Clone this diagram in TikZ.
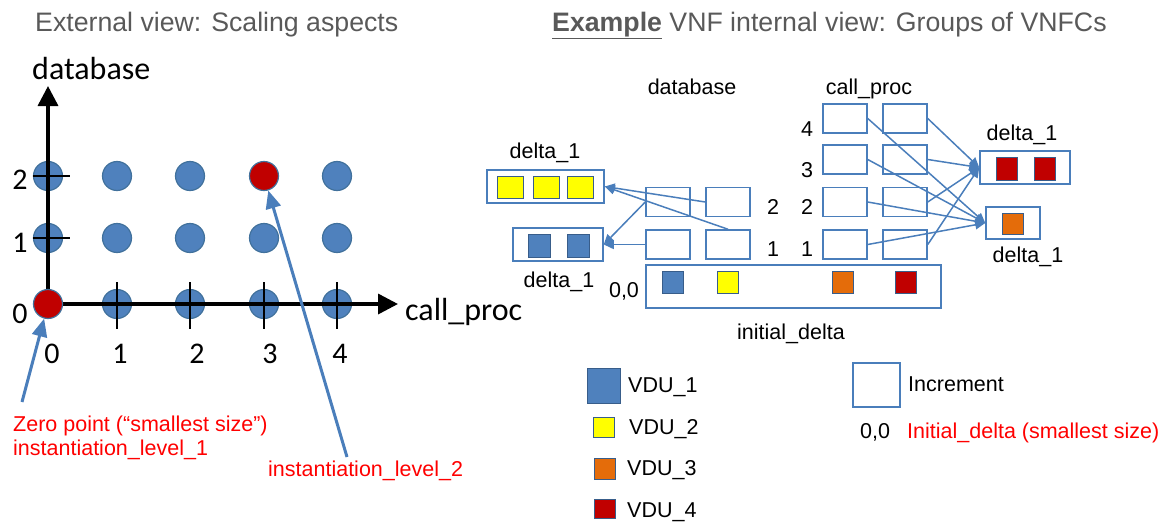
\documentclass[tikz,border=0pt]{standalone}
\usepackage{fontspec}
\setmainfont{Liberation Sans}
\newfontfamily\calfont{Carlito}
\usetikzlibrary{arrows.meta}
\definecolor{vblue}{HTML}{4F81BD}
\definecolor{vedge}{HTML}{385D8A}
\definecolor{cedge}{HTML}{41719C}
\definecolor{vred}{HTML}{C00000}
\definecolor{vyellow}{HTML}{FFFF00}
\definecolor{vorange}{HTML}{E46C0A}
\definecolor{tgray}{HTML}{595959}
\definecolor{lred}{HTML}{FF0000}
\definecolor{lblue}{HTML}{4A7EBB}
\begin{document}
\begin{tikzpicture}[x=1pt,y=-1pt,
  txt/.style={font=\fontsize{21.5}{24}\selectfont, inner sep=0pt},
  redtxt/.style={txt, text=lred, anchor=base west},
  ttl/.style={font=\fontsize{26.7}{30}\selectfont, text=tgray, inner sep=0pt, anchor=base west},
  cal/.style={font=\calfont\fontsize{32}{36}\selectfont, inner sep=0pt},
  num/.style={font=\calfont\fontsize{30}{34}\selectfont, inner sep=0pt},
  dot/.style={circle, minimum size=29pt, inner sep=0pt, fill=vblue, draw=cedge, line width=1.2pt},
  reddot/.style={dot, fill=vred},
  axis/.style={line width=3.5pt, -{Triangle[length=20pt,width=20pt]}},
  tickmark/.style={line width=2pt},
  pointer/.style={draw=lblue, line width=3pt, -{Triangle[length=18pt,width=15pt]}},
  incbox/.style={draw=lblue, line width=1.5pt, minimum width=44pt, minimum height=29pt, inner sep=0pt},
  grp/.style={draw=lblue, line width=1.5pt, inner sep=0pt},
  sq/.style={draw=vedge, line width=1pt, inner sep=0pt, minimum width=21pt, minimum height=22pt},
  link/.style={draw=lblue, line width=1.5pt, -{Triangle[length=10pt,width=9pt]}},
]
\useasboundingbox (0,0) rectangle (1168,522);

% ---------- titles ----------
\node[ttl] (t1) at (35,31) {External view: Scaling aspects};
\node[ttl] (t2) at (552,31) {\underline{\textbf{Example}} VNF internal view: Groups of VNFCs};

% ---------- left chart ----------
\foreach \n/\x/\y in {c10/117/304, c20/190/304, c30/264/304, c40/337/304,
                      c01/48/238, c11/117/238, c21/190/238, c31/264/238, c41/337/238,
                      c02/48/176, c12/117/176, c22/190/176, c42/337/176}
  \node[dot] (\n) at (\x,\y) {};

\coordinate (O) at (48,304);
\coordinate (ytop) at (48,86);
\coordinate (xend) at (398,304);
\draw[axis] (O) -- (ytop);
\draw[axis] (O) -- (xend);

\foreach \y/\n in {176/ty2, 238/ty1} {
  \coordinate (\n a) at (33,\y); \coordinate (\n b) at (70,\y);
  \draw[tickmark] (\n a) -- (\n b);
}
\foreach \x/\n in {117/tx1, 190/tx2, 264/tx3, 337/tx4} {
  \coordinate (\n a) at (\x,282); \coordinate (\n b) at (\x,329);
  \draw[tickmark] (\n a) -- (\n b);
}

\node[reddot] (c00) at (48,304) {};
\node[reddot] (c32) at (264,176) {};

\node[cal, anchor=base west] (ylab) at (32,79) {database};
\node[cal, anchor=base west] (xlab) at (405,320) {call\_proc};

\node[num] (y0) at (20,314) {0};
\node[num] (y1) at (20,243) {1};
\node[num] (y2) at (20,180) {2};
\node[num] (x0) at (52,354) {0};
\node[num] (x1) at (120,354) {1};
\node[num] (x2) at (197,354) {2};
\node[num] (x3) at (270,354) {3};
\node[num] (x4) at (340,354) {4};

\node[redtxt] (zp1) at (13,431) {Zero point (“smallest size”)};
\node[redtxt] (zp2) at (13,455) {instantiation\_level\_1};
\node[redtxt] (il2t) at (268,476) {instantiation\_level\_2};

\coordinate (zp) at (22,402);
\coordinate (il2) at (347,457);
\draw[pointer] (zp) -- (c00);
\draw[pointer] (il2) -- (c32);

% ---------- right: increments ----------
\node[txt, anchor=base] (dbl) at (692,94) {database};
\node[txt, anchor=base] (cpl) at (869,94) {call\_proc};

\node[incbox] (db-l-2) at (668,202) {};
\node[incbox] (db-r-2) at (728,202) {};
\node[incbox] (db-l-1) at (668,244.5) {};
\node[incbox] (db-r-1) at (728,244.5) {};

\foreach \k/\y in {4/118.5, 3/159.5, 2/202, 1/244.5} {
  \node[incbox] (cp-l-\k) at (845,\y) {};
  \node[incbox] (cp-r-\k) at (905,\y) {};
}

\node[txt, anchor=base] (dn2) at (773,214) {2};
\node[txt, anchor=base] (dn1) at (773,256) {1};
\node[txt, anchor=base] (cn4) at (807,136) {4};
\node[txt, anchor=base] (cn3) at (807,177) {3};
\node[txt, anchor=base] (cn2) at (807,214) {2};
\node[txt, anchor=base] (cn1) at (807,256) {1};

% initial delta
\node[grp, minimum width=295pt, minimum height=43pt] (init) at (793.5,286.5) {};
\node[sq, fill=vblue] (ib) at (673,282) {};
\node[sq, fill=vyellow] (iy) at (728,282) {};
\node[sq, fill=vorange] (io) at (842.5,282) {};
\node[sq, fill=vred] (ir) at (906,282) {};
\node[txt, anchor=base] (zz) at (624,297) {0,0};
\node[txt, anchor=base] (initl) at (791,339) {initial\_delta};

% groups
\node[grp, minimum width=117pt, minimum height=33pt] (yel) at (545.5,186.5) {};
\foreach \x/\n in {510/ya, 546/yb, 580/yc}
  \node[sq, fill=vyellow, minimum width=26pt] (\n) at (\x,187) {};
\node[txt, anchor=base] (yell) at (545,158) {delta\_1};

\node[grp, minimum width=90pt, minimum height=33pt] (blu) at (558,244.5) {};
\foreach \x/\n in {539/ba, 578/bb}
  \node[sq, fill=vblue, minimum width=22pt, minimum height=23pt] (\n) at (\x,245.5) {};
\node[txt, anchor=base] (blul) at (559,287) {delta\_1};

\node[grp, minimum width=90pt, minimum height=33pt] (red) at (1025,167.5) {};
\foreach \x/\n in {1006.5/ra, 1045/rb}
  \node[sq, fill=vred, minimum height=23pt] (\n) at (\x,168.5) {};
\node[txt, anchor=base] (redl) at (1022,140) {delta\_1};

\node[grp, minimum width=54pt, minimum height=32pt] (org) at (1013,223) {};
\node[sq, fill=vorange, minimum height=21pt] (oa) at (1012.5,223.5) {};
\node[txt, anchor=base] (orgl) at (1028,262) {delta\_1};

% links
\draw[link] (db-r-2.west) -- (yel.east);
\draw[link] (db-r-1.north) -- (yel.east);
\draw[link] (db-l-2.west) -- (blu.east);
\draw[link] (db-l-1.west) -- (blu.east);
\foreach \k in {1,2,3,4} {
  \draw[link] (cp-r-\k.east) -- (red.west);
  \draw[link] (cp-l-\k.east) -- (org.west);
}

% ---------- legend ----------
\node[sq, fill=vblue, minimum width=33pt, minimum height=35pt] (lg1) at (604,385.5) {};
\node[sq, fill=vyellow, minimum height=20pt] (lg2) at (603.5,427) {};
\node[sq, fill=vorange, minimum height=21pt] (lg3) at (604.5,468.5) {};
\node[sq, fill=vred, minimum height=19pt] (lg4) at (604.5,508.5) {};
\node[txt, anchor=base west] (lt1) at (628,392) {VDU\_1};
\node[txt, anchor=base west] (lt2) at (629,434) {VDU\_2};
\node[txt, anchor=base west] (lt3) at (627,475) {VDU\_3};
\node[txt, anchor=base west] (lt4) at (627,517) {VDU\_4};

\node[incbox, minimum width=47pt, minimum height=44pt] (lgi) at (876.5,385) {};
\node[txt, anchor=base west] (lti) at (908,391) {Increment};
\node[txt, anchor=base west] (lt0) at (860,438) {0,0};
\node[redtxt] (ltd) at (907,438) {Initial\_delta (smallest size)};
\end{tikzpicture}
\end{document}
